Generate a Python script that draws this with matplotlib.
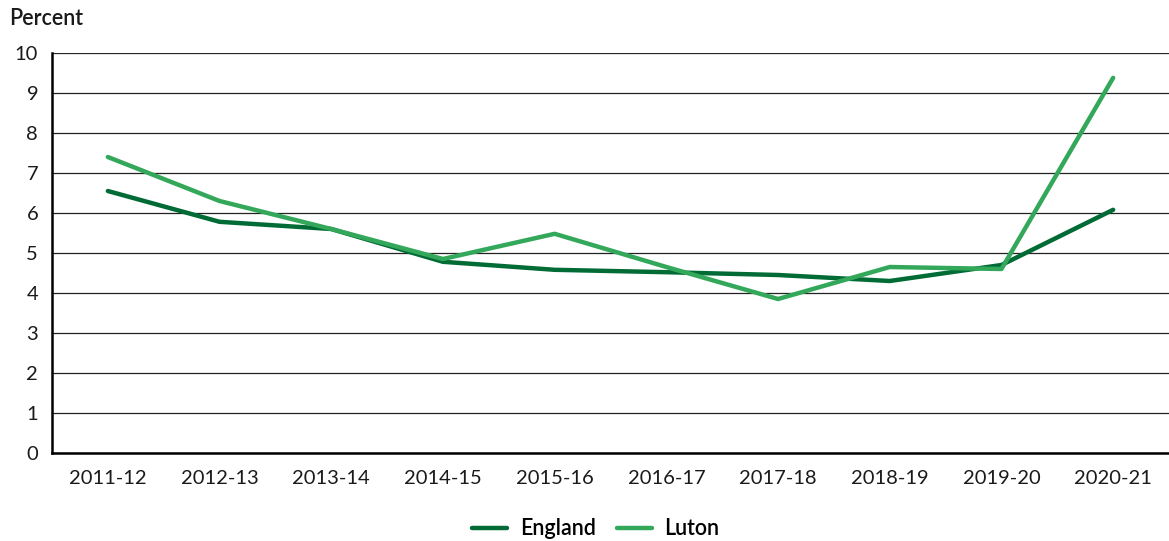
import numpy as np
import matplotlib.pyplot as plt

plt.rcParams['font.family'] = ['Lato', 'DejaVu Sans']

years = ['2011-12', '2012-13', '2013-14', '2014-15', '2015-16',
         '2016-17', '2017-18', '2018-19', '2019-20', '2020-21']
england = [6.55, 5.78, 5.6, 4.78, 4.58, 4.52, 4.45, 4.3, 4.7, 6.08]
luton = [7.4, 6.3, 5.6, 4.85, 5.48, 4.65, 3.85, 4.65, 4.6, 9.38]

fig = plt.figure(figsize=(11.69, 5.41), dpi=100)
ax = fig.add_axes([0.0445, 0.1627, 0.9555, 0.7393])

x = np.arange(len(years))
ax.plot(x, england, color='#006b35', lw=3.2, solid_capstyle='round', label='England')
ax.plot(x, luton, color='#34a85a', lw=3.2, solid_capstyle='round', label='Luton')

ax.set_xlim(-0.5, 9.5)
ax.set_ylim(0, 10)
ax.set_yticks(range(0, 11))
ax.set_xticks(x)
ax.set_xticklabels(years)
ax.tick_params(length=0, labelsize=14.5, colors='#1a1a1a')
ax.tick_params(axis='x', pad=12)
ax.tick_params(axis='y', pad=10)
ax.grid(axis='y', color='#222222', lw=0.9)
ax.set_axisbelow(True)
for s in ['top', 'right']:
    ax.spines[s].set_visible(False)
ax.spines['left'].set_linewidth(1.8)
ax.spines['bottom'].set_linewidth(1.8)

fig.text(0.008, 0.965, 'Percent', fontsize=15.5, fontweight='semibold',
         va='center', ha='left', color='#1a1a1a')

leg = ax.legend(loc='upper center', bbox_to_anchor=(0.487, -0.115), ncol=2, frameon=False,
                prop={'size': 15.5, 'weight': 'semibold'}, handlelength=1.6,
                columnspacing=1.0, handletextpad=0.6)

fig.savefig('out.png', dpi=100)
